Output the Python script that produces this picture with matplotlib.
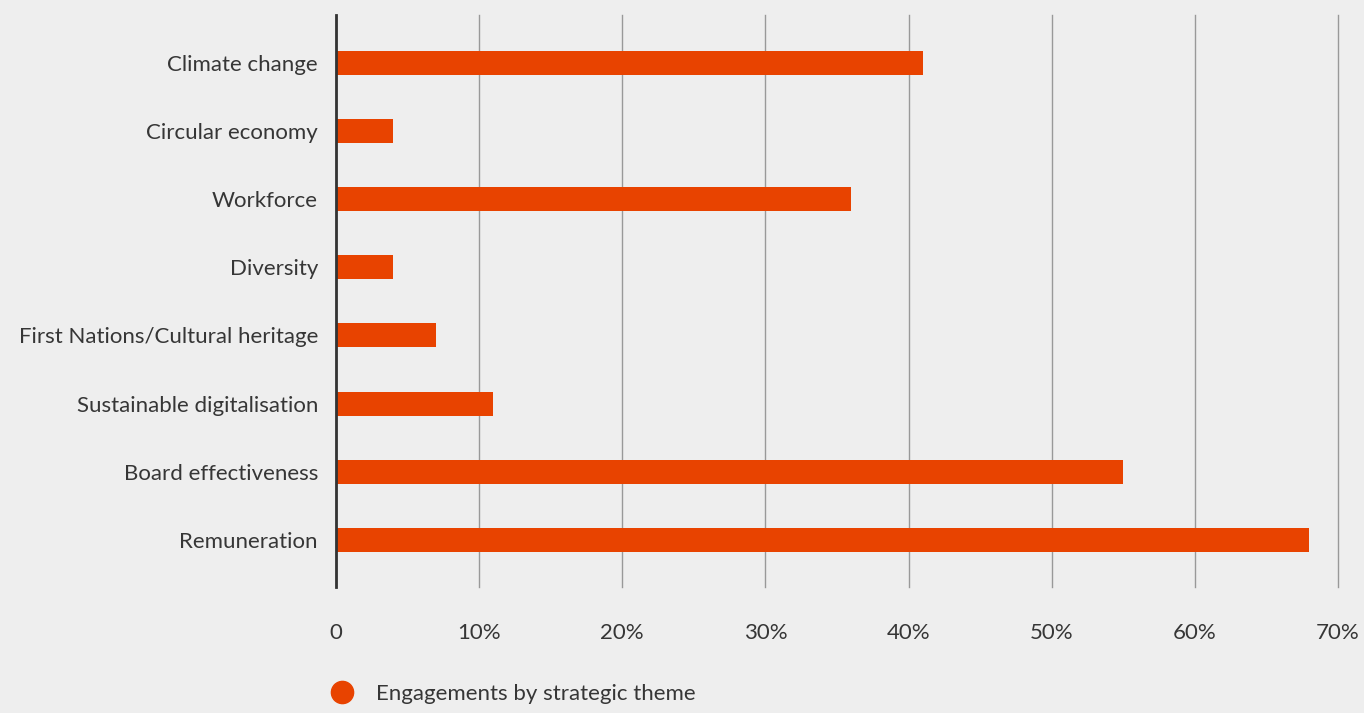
import matplotlib.pyplot as plt
from matplotlib.lines import Line2D

plt.rcParams['font.family'] = ['Lato', 'DejaVu Sans']

themes = ['Climate change', 'Circular economy', 'Workforce', 'Diversity',
          'First Nations/Cultural heritage', 'Sustainable digitalisation',
          'Board effectiveness', 'Remuneration']
shares = [41, 4, 36, 4, 7, 11, 55, 68]
ticks = [0, 10, 20, 30, 40, 50, 60, 70]
tick_labels = ['0', '10%', '20%', '30%', '40%', '50%', '60%', '70%']

bg = '#eeeeee'
orange = '#e84300'
text_col = '#363636'

fig = plt.figure(figsize=(13.64, 7.13), dpi=100, facecolor=bg)
ax = fig.add_axes([0.2463, 0.1767, 0.7347, 0.8023], facecolor=bg)

ax.barh(range(len(themes)), shares, height=0.35, color=orange, zorder=3)
ax.set_ylim(7.69, -0.70)
ax.set_xlim(0, 70)

ax.set_xticks(ticks)
ax.set_xticklabels(tick_labels)
ax.set_yticks(range(len(themes)))
ax.set_yticklabels(themes)
ax.tick_params(axis='x', length=0, pad=26, labelsize=16, labelcolor=text_col)
ax.tick_params(axis='y', length=0, pad=13, labelsize=16, labelcolor=text_col)

ax.grid(axis='x', color='#999999', linewidth=1, zorder=0)
for gl in ax.get_xgridlines():
    gl.set_clip_on(False)
for s in ['top', 'right', 'bottom']:
    ax.spines[s].set_visible(False)
ax.spines['left'].set_color('#333333')
ax.spines['left'].set_linewidth(2)
ax.spines['left'].set_zorder(4)

handle = Line2D([], [], marker='o', color=orange, linestyle='none', markersize=16)
fig.legend([handle], ['Engagements by strategic theme'], loc='center left',
           bbox_to_anchor=(0.2198, 0.027), frameon=False, fontsize=16,
           labelcolor=text_col, handletextpad=0.55)

fig.savefig('out.png', dpi=100, facecolor=bg)
